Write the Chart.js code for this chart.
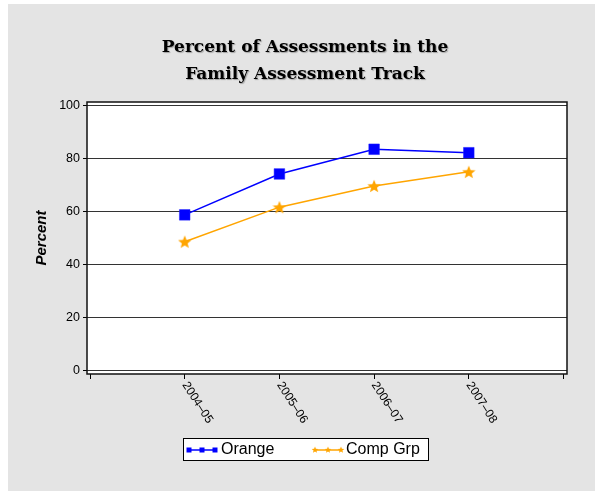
<!DOCTYPE html>
<html>
<head>
<meta charset="utf-8">
<script src="https://cdn.jsdelivr.net/npm/chart.js@4"></script>
<style>
  html, body { margin: 0; padding: 0; background: #fff; }
  #wrap { width: 595px; height: 491px; }
</style>
</head>
<body>
<div id="wrap"><canvas id="assessChart" width="595" height="491"></canvas></div>
<script>
// chart data
const titleLines = ['Percent of Assessments in the', 'Family Assessment Track'];
const schoolYears = ['2004\u201305', '2005\u201306', '2006\u201307', '2007\u201308'];
const seriesNames = ['Orange', 'Comp Grp'];
const orangeValues = [58.8, 74.2, 83.5, 82.2];
const compGrpValues = [48.7, 61.7, 69.7, 75.0];
const yTickValues = [0, 20, 40, 60, 80, 100];
const xTickSlots = [0, 1, 2, 3, 4, 5];

const BLUE = '#0000ff';
const ORANGE = '#ffa500';

// filled five point star path
function starPath(ctx, cx, cy, outer, inner) {
  ctx.beginPath();
  for (let i = 0; i < 10; i++) {
    const r = i % 2 ? inner : outer;
    const a = -Math.PI / 2 + i * Math.PI / 5;
    ctx.lineTo(cx + r * Math.cos(a), cy + r * Math.sin(a));
  }
  ctx.closePath();
}

function makeStar(size, color) {
  const c = document.createElement('canvas');
  c.width = size;
  c.height = size;
  const g = c.getContext('2d');
  starPath(g, size / 2, size / 2 + size * 0.05, size / 2, size / 4.6);
  g.fillStyle = color;
  g.fill();
  return c;
}

const starImg = makeStar(14, ORANGE);

// gray page background + white plot area + frame
const backdrop = {
  id: 'backdrop',
  beforeDraw(chart) {
    const ctx = chart.ctx;
    const a = chart.chartArea;
    ctx.save();
    ctx.fillStyle = '#fff';
    ctx.fillRect(0, 0, chart.width, chart.height);
    ctx.fillStyle = '#e4e4e4';
    ctx.fillRect(8, 4, chart.width - 8, chart.height - 4);
    ctx.fillStyle = '#fff';
    ctx.fillRect(a.left, a.top, a.right - a.left, a.bottom - a.top);
    ctx.restore();
  },
  beforeDatasetsDraw(chart) {
    const ctx = chart.ctx;
    const a = chart.chartArea;
    ctx.save();
    ctx.strokeStyle = '#111';
    ctx.lineWidth = 1.5;
    ctx.strokeRect(a.left, a.top, a.right - a.left, a.bottom - a.top);
    ctx.restore();
  }
};

// title, slanted year labels and legend box
const decorations = {
  id: 'decorations',
  afterDraw(chart) {
    const ctx = chart.ctx;
    const xs = chart.scales.x;
    ctx.save();

    // title
    ctx.font = 'bold 17px "DejaVu Serif"';
    ctx.fillStyle = '#000';
    ctx.textAlign = 'center';
    ctx.textBaseline = 'middle';
    ctx.shadowColor = 'rgba(0,0,0,0.3)';
    ctx.shadowBlur = 1;
    ctx.shadowOffsetX = 1;
    ctx.shadowOffsetY = 1;
    titleLines.forEach((t, i) => ctx.fillText(t, 305, 48 + i * 27));
    ctx.shadowColor = 'transparent';

    // x labels going down to the right
    ctx.font = '12px "Liberation Sans"';
    ctx.textAlign = 'left';
    schoolYears.forEach((lab, i) => {
      const px = xs.getPixelForValue(i + 1);
      ctx.save();
      ctx.translate(px, 383);
      ctx.rotate(57 * Math.PI / 180);
      ctx.fillText(lab, 0, 0);
      ctx.restore();
    });

    // legend
    ctx.fillStyle = '#fff';
    ctx.fillRect(183, 438, 245, 22);
    ctx.strokeStyle = '#000';
    ctx.lineWidth = 1;
    ctx.strokeRect(183.5, 438.5, 245, 22);
    const items = [{ x: 189, tx: 221 }, { x: 315, tx: 346 }];
    items.forEach((it, i) => {
      const ds = chart.data.datasets[i];
      const y = 450;
      ctx.strokeStyle = ds.borderColor;
      ctx.lineWidth = 1.5;
      ctx.beginPath();
      ctx.moveTo(it.x, y);
      ctx.lineTo(it.x + 26, y);
      ctx.stroke();
      ctx.fillStyle = ds.borderColor;
      [0, 13, 26].forEach(d => {
        if (i === 0) {
          ctx.fillRect(it.x + d - 2.5, y - 2.5, 5, 5);
        } else {
          starPath(ctx, it.x + d, y, 3.5, 1.5);
          ctx.fill();
        }
      });
      ctx.fillStyle = '#000';
      ctx.font = '16px "Liberation Sans"';
      ctx.textBaseline = 'middle';
      ctx.fillText(seriesNames[i], it.tx, y);
    });

    ctx.restore();
  }
};

const ctx = document.getElementById('assessChart').getContext('2d');

new Chart(ctx, {
  type: 'line',
  data: {
    datasets: [
      {
        label: seriesNames[0],
        data: orangeValues.map((v, i) => ({ x: i + 1, y: v })),
        borderColor: BLUE,
        backgroundColor: BLUE,
        borderWidth: 1.5,
        pointStyle: 'rect',
        pointRadius: 7.5,
        pointBorderWidth: 0.5,
        pointBorderColor: '#2020ff',
        tension: 0
      },
      {
        label: seriesNames[1],
        data: compGrpValues.map((v, i) => ({ x: i + 1, y: v })),
        borderColor: ORANGE,
        backgroundColor: ORANGE,
        borderWidth: 1.5,
        pointStyle: starImg,
        pointRadius: 7,
        tension: 0
      }
    ]
  },
  options: {
    responsive: false,
    animation: false,
    devicePixelRatio: 1,
    layout: { padding: { top: 102, left: 30, right: 28, bottom: 0 } },
    plugins: {
      legend: { display: false },
      title: { display: false },
      tooltip: { enabled: false }
    },
    scales: {
      x: {
        type: 'linear',
        min: -0.032,
        max: 5.037,
        afterBuildTicks: scale => { scale.ticks = xTickSlots.map(v => ({ value: v })); },
        afterFit: scale => { scale.height = 117; },
        ticks: { callback: () => '', padding: 0 },
        grid: { drawOnChartArea: false, drawTicks: true, tickLength: 5, color: '#000', lineWidth: 1 },
        border: { display: false }
      },
      y: {
        min: -1.13,
        max: 101.3,
        afterBuildTicks: scale => { scale.ticks = yTickValues.map(v => ({ value: v })); },
        afterFit: scale => { scale.width = 57; },
        ticks: {
          color: '#000',
          padding: 3,
          font: { family: 'Liberation Sans', size: 12.5 }
        },
        grid: { color: '#333', lineWidth: 1, tickLength: 4, tickColor: '#000' },
        border: { display: false },
        title: {
          display: true,
          text: 'Percent',
          color: '#000',
          padding: { top: 3, bottom: 0 },
          font: { family: 'Liberation Sans', size: 15, weight: 'bold', style: 'italic' }
        }
      }
    }
  },
  plugins: [backdrop, decorations]
});
</script>
</body>
</html>
